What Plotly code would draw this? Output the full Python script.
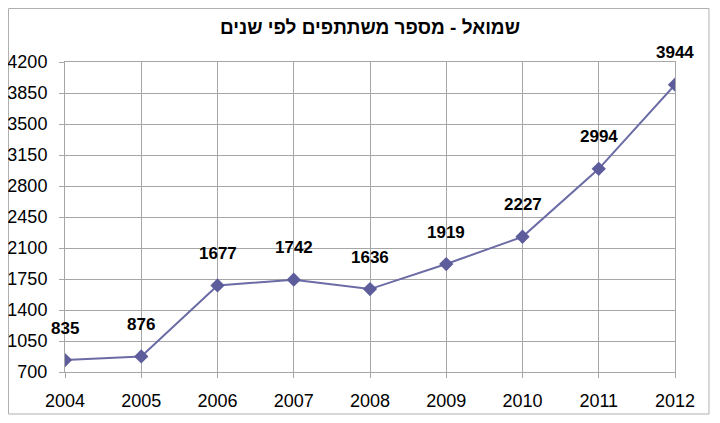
import plotly.graph_objects as go

# participants per year
years = [2004, 2005, 2006, 2007, 2008, 2009, 2010, 2011, 2012]
participants = [835, 876, 1677, 1742, 1636, 1919, 2227, 2994, 3944]
y_ticks = [700, 1050, 1400, 1750, 2100, 2450, 2800, 3150, 3500, 3850, 4200]
title_text = 'שמואל - מספר משתתפים לפי שנים'

FONT = 'Liberation Sans, Arial, sans-serif'
GRID = '#a6a6a6'

fig = go.Figure()
fig.add_trace(
    go.Scatter(
        x=years, y=participants, mode='lines+markers',
        line=dict(color='#6b6ba6', width=2),
        marker=dict(symbol='diamond', size=11, color='#5d5d9c'),
        showlegend=False, hoverinfo='x+y',
    )
)

for year, value in zip(years, participants):
    fig.add_annotation(
        x=year, y=value, text='<b>%d</b>' % value, showarrow=False, yshift=32,
        font=dict(family=FONT, size=17, color='black'),
    )

# outer chart border
fig.add_shape(
    type='rect', xref='paper', yref='paper',
    x0=-0.0926, x1=1.0557, y0=-0.1355, y1=1.1726,
    line=dict(color='#b0b0b0', width=1), layer='below',
)

# page body has an 8px margin, so the figure is 8px smaller than the window
fig.update_layout(
    width=712, height=415,
    margin=dict(l=57, r=45, t=54, b=51),
    paper_bgcolor='white', plot_bgcolor='white',
    font=dict(family=FONT, size=18, color='black'),
    title=dict(text='<b>' + title_text + '</b>', x=0.5, xref='paper', xanchor='center',
               y=0.954, yref='container', yanchor='middle',
               font=dict(family=FONT, size=19, color='black')),
)
fig.update_xaxes(
    range=[2004, 2012], tickmode='array', tickvals=years, ticktext=[str(y) for y in years],
    showgrid=True, gridcolor=GRID, gridwidth=1,
    showline=True, linecolor=GRID, linewidth=1, mirror=True,
    ticks='outside', ticklen=5, tickcolor=GRID, ticklabelstandoff=7,
    tickfont=dict(size=18), automargin=False,
    zeroline=False, fixedrange=True,
)
fig.update_yaxes(
    range=[700, 4200], tickmode='array', tickvals=y_ticks,
    showgrid=True, gridcolor=GRID, gridwidth=1,
    showline=True, linecolor=GRID, linewidth=1, mirror=True,
    ticks='outside', ticklen=5, tickcolor=GRID, ticklabelstandoff=8,
    tickfont=dict(size=18), automargin=False,
    zeroline=False, fixedrange=True,
)

fig.write_html("out.html")
